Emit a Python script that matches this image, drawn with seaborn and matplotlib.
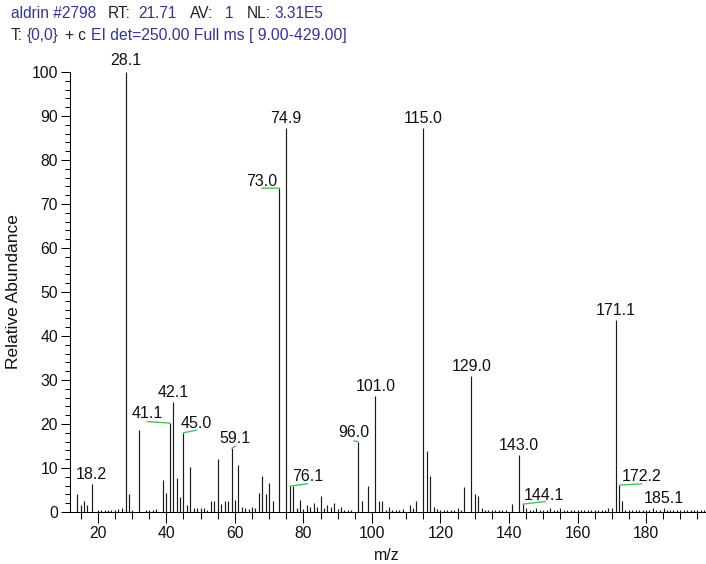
import matplotlib
matplotlib.use("Agg")
import matplotlib.pyplot as plt
import seaborn as sns
import pandas as pd
from matplotlib.ticker import MultipleLocator

# ---------------- data ----------------
mz = [14, 15, 16, 17, 18.2, 20, 21, 22, 23, 24, 25, 26, 27, 28.1, 29, 30, 32,
      34, 35, 36, 37, 39, 40, 41.1, 42.1, 43, 44, 45.0, 46, 47, 48, 49, 50, 51,
      52, 53, 54, 55, 56, 57, 58, 59.1, 60, 61, 62, 63, 64, 65, 66, 67, 68, 69,
      70, 71, 73.0, 74.9, 76.1, 77, 78, 79, 80, 81, 82, 83, 84, 85, 86, 87, 88,
      89, 90, 91, 92, 93, 94, 96.0, 97, 99, 101.0, 102, 103, 104, 105, 106, 107,
      108, 109, 111, 112, 113, 115.0, 116, 117, 118, 119, 120, 121, 122, 123,
      124, 125, 126, 127, 129.0, 130, 131, 132, 133, 134, 135, 136, 137, 138,
      139, 141, 143.0, 144.1, 145, 146, 147, 148, 149, 150, 151, 152, 153, 154,
      155, 156, 157, 158, 159, 160, 161, 162, 163, 164, 165, 166, 167, 168,
      169, 170, 171.1, 172.2, 173, 174, 175, 176, 177, 178, 179, 180, 181, 182,
      183, 184, 185.1, 186, 187, 188, 189, 190, 191, 192, 193, 194, 195, 196, 197]
intensity = [4.2, 1.6, 2.6, 1.6, 6.3, 0.5, 0.5, 0.4, 0.5, 0.5, 0.5, 0.6, 0.8, 100.0, 4.2, 0.5, 18.7,
             0.5, 0.5, 0.5, 0.6, 7.3, 4.3, 20.2, 25.0, 7.7, 3.3, 18.0, 1.6, 10.3, 1.0, 0.8, 0.8, 0.8,
             0.5, 2.4, 2.4, 12.0, 1.8, 2.4, 2.6, 14.5, 2.8, 10.7, 1.1, 0.9, 0.6, 1.1, 0.9, 4.3, 8.2, 4.0,
             6.7, 2.6, 73.6, 87.2, 5.9, 5.9, 0.9, 2.8, 0.6, 1.6, 1.1, 2.0, 1.1, 3.7, 0.9, 1.6, 1.1,
             2.0, 0.6, 1.2, 0.5, 0.5, 0.5, 16.0, 2.4, 5.8, 26.4, 2.4, 2.4, 0.5, 1.1, 0.5, 0.5,
             0.5, 0.6, 1.6, 0.9, 2.4, 87.2, 13.9, 8.2, 1.1, 0.6, 0.5, 0.5, 0.5, 0.5,
             0.5, 0.9, 0.5, 5.6, 30.9, 4.0, 3.6, 0.9, 0.5, 0.5, 0.5, 0.5, 0.5, 0.5,
             0.5, 1.8, 13.0, 1.8, 0.9, 0.5, 0.5, 0.8, 0.5, 0.5, 0.5, 0.8, 0.5, 0.5,
             0.8, 0.5, 0.5, 0.5, 0.5, 0.5, 0.5, 0.5, 0.5, 0.5, 0.5, 0.5, 0.5, 0.5,
             0.8, 0.8, 43.6, 6.1, 2.6, 0.5, 0.5, 0.5, 0.5, 0.5, 0.5, 0.5, 0.5, 0.8,
             0.5, 0.5, 0.8, 0.5, 0.5, 0.5, 0.5, 0.5, 0.5, 0.5, 0.5, 0.5, 0.5, 0.5, 0.5]

label_mz = [18.2, 28.1, 41.1, 42.1, 45.0, 59.1, 73.0, 74.9, 76.1, 96.0, 101.0,
            115.0, 129.0, 143.0, 144.1, 171.1, 172.2, 185.1]
label_text = ["18.2", "28.1", "41.1", "42.1", "45.0", "59.1", "73.0", "74.9", "76.1",
              "96.0", "101.0", "115.0", "129.0", "143.0", "144.1", "171.1", "172.2", "185.1"]

y_ticks = [0, 10, 20, 30, 40, 50, 60, 70, 80, 90, 100]
x_ticks = [20, 40, 60, 80, 100, 120, 140, 160, 180]

header1 = [("aldrin #2798", "#35358a"), ("RT:", "#222222"), ("21.71", "#35358a"),
           ("AV:", "#222222"), ("1", "#35358a"), ("NL:", "#222222"), ("3.31E5", "#35358a")]
header2 = [("T:", "#222222"), ("{0,0}", "#35358a"), ("+ c", "#222222"),
           ("EI det=250.00 Full ms [ 9.00-429.00]", "#35358a")]

# ---------------- styling ----------------
sns.set_theme(style="ticks")
plt.rcParams["font.family"] = ["Liberation Sans", "DejaVu Sans"]

W, H = 706, 564
fig = plt.figure(figsize=(W / 100, H / 100), dpi=100)
ax = fig.add_axes([70 / W, 1 - 512 / H, 635 / W, 440 / H])

df = pd.DataFrame({"mz": mz, "intensity": intensity})
ax.vlines(df["mz"], 0, df["intensity"], color="#1a1a1a", lw=0.85)
sns.despine(ax=ax)

ax.set_xlim(11.9, 197.2)
ax.set_ylim(0, 100)
ax.set_yticks(y_ticks)
ax.set_xticks(x_ticks)
ax.yaxis.set_minor_locator(MultipleLocator(2))
ax.xaxis.set_minor_locator(MultipleLocator(5))
ax.tick_params(axis="y", which="major", length=6.5, width=0.75, color="black",
               labelsize=11.3, pad=2, labelcolor="#111111", direction="out")
ax.tick_params(axis="y", which="minor", length=3.6, width=0.75, color="black", direction="out")
ax.tick_params(axis="x", which="major", length=8, width=0.75, color="black",
               labelsize=11.3, pad=2, labelcolor="#111111", direction="out")
ax.tick_params(axis="x", which="minor", length=5, width=0.75, color="black", direction="out")
for s in ("left", "bottom"):
    ax.spines[s].set_linewidth(0.75)
    ax.spines[s].set_color("black")

ax.set_ylabel("Relative Abundance", fontsize=12.5, color="#111111")
ax.set_xlabel("m/z", fontsize=11.5, color="#111111")
ax.yaxis.set_label_coords((21 - 70) / 635, 0.5)
ax.xaxis.set_label_coords((387 - 70) / 635, (512 - 548) / 440)

# label offsets (pixels)
lab_off = {"73.0": (-17.5, 7), "41.1": (-22.5, 10), "45.0": (12.6, 9.4),
           "59.1": (3.3, 9.3), "76.1": (17.4, 9.3), "96.0": (-4.3, 8.7),
           "144.1": (21.3, 8.3), "172.2": (22.4, 8.3), "28.1": (0, 11)}
green_off = {"73.0": (-17.6, 0), "41.1": (-23, 1.6), "45.0": (13.3, 2.7),
             "59.1": (4.3, 2.3), "76.1": (17.7, 2.3), "96.0": (-4.3, 0.7),
             "144.1": (22.3, 2.6), "172.2": (22.4, 1.3)}
green = "#4cc05a"
lookup = dict(zip(mz, intensity))
for m, t in zip(label_mz, label_text):
    yv = lookup[m]
    dx, dy = lab_off.get(t, (0, 9.5))
    ax.annotate(t, xy=(m, yv), xytext=(dx, dy), textcoords="offset pixels",
                ha="center", va="center", fontsize=11.5, color="#111111",
                annotation_clip=False)
    if t in green_off:
        gx, gy = green_off[t]
        ax.annotate("", xy=(m, yv), xytext=(gx, gy), textcoords="offset pixels",
                    arrowprops=dict(arrowstyle="-", color=green, lw=1.0,
                                    shrinkA=0, shrinkB=0),
                    annotation_clip=False)

# header
x1 = [11, 108, 138, 190, 225, 247, 274]
for (txt, col), xp in zip(header1, x1):
    fig.text(xp / W, 1 - 18 / H, txt, fontsize=11.2, color=col, ha="left", va="baseline")
x2 = [11, 27, 65, 91]
s2 = [11.2, 11.2, 11.2, 11.3]
for (txt, col), xp, fs in zip(header2, x2, s2):
    fig.text(xp / W, 1 - 40 / H, txt, fontsize=fs, color=col, ha="left", va="baseline")

fig.savefig("out.png", dpi=100)
